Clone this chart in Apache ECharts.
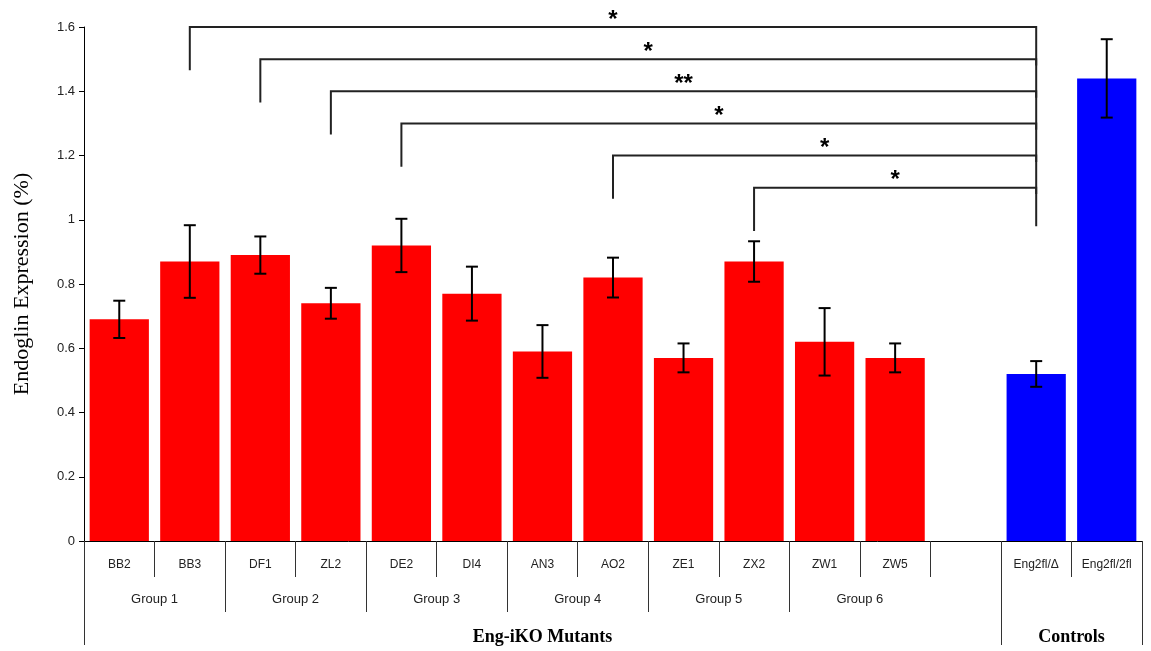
<!DOCTYPE html>
<html>
<head>
    <meta charset="UTF-8">
    <title>Endoglin Expression</title>
    <style>
        html, body { margin: 0; padding: 0; background: #fff; }
        #main { width: 1151px; height: 651px; }
    </style>
    <script src="https://cdn.jsdelivr.net/npm/echarts@6/dist/echarts.min.js"></script>
</head>
<body>
<div id="main"></div>
<script>
    // bar categories (one empty slot between mutants and controls)
    var categories = ['BB2', 'BB3', 'DF1', 'ZL2', 'DE2', 'DI4', 'AN3', 'AO2', 'ZE1', 'ZX2', 'ZW1', 'ZW5', '', 'Eng2fl/Δ', 'Eng2fl/2fl'];
    var means = [0.69, 0.87, 0.89, 0.74, 0.92, 0.77, 0.59, 0.82, 0.57, 0.87, 0.62, 0.57, null, 0.52, 1.44];
    var errors = [0.058, 0.113, 0.058, 0.048, 0.083, 0.084, 0.082, 0.062, 0.045, 0.063, 0.105, 0.045, null, 0.04, 0.122];
    var isControl = [false, false, false, false, false, false, false, false, false, false, false, false, false, true, true];

    // second label row
    var groupLabels = ['Group 1', 'Group 2', 'Group 3', 'Group 4', 'Group 5', 'Group 6'];
    var groupCentres = [0.5, 2.5, 4.5, 6.5, 8.5, 10.5];
    var groupEdges = [-0.5, 1.5, 3.5, 5.5, 7.5, 9.5, 12.5, 14.5];

    // third label row
    var sectionLabels = ['Eng-iKO Mutants', 'Controls'];
    var sectionCentres = [6, 13.5];
    var sectionEdges = [-0.5, 12.5, 14.5];

    // significance brackets, all against Eng2fl/Δ
    var bracketFrom = [1, 2, 3, 4, 7, 9];
    var bracketTo = 13;
    var bracketLevel = [1.6, 1.5, 1.4, 1.3, 1.2, 1.1];
    var bracketMarks = ['*', '*', '**', '*', '*', '*'];
    var bracketDrop = 0.135;

    var chart = echarts.init(document.getElementById('main'));

    var lineColor = '#222';
    var sans = 'Liberation Sans';

    var barData = means.map(function (m, i) {
        return { value: m, itemStyle: { color: isControl[i] ? '#0000ff' : '#ff0000' } };
    });

    var errData = [];
    means.forEach(function (m, i) {
        if (m != null) errData.push([i, m, errors[i]]);
    });

    var bracketData = bracketFrom.map(function (f, i) {
        return [f, bracketLevel[i], i];
    });

    var option = {
        animation: false,
        backgroundColor: '#fff',
        grid: { left: 84, right: 9, top: 27, bottom: 110 },
        xAxis: [
            {
                type: 'category',
                data: categories,
                position: 'bottom',
                axisLine: { lineStyle: { color: '#000', width: 1 } },
                axisTick: { show: true, interval: 0, length: 36, lineStyle: { color: '#333' } },
                axisLabel: { interval: 0, margin: 18, fontSize: 12, color: '#222', fontFamily: sans }
            },
            {
                type: 'value',
                min: -0.5,
                max: 14.5,
                position: 'bottom',
                splitLine: { show: false },
                axisLine: { show: false },
                axisTick: { show: true, customValues: groupEdges, length: 71, lineStyle: { color: '#333' } },
                axisLabel: {
                    customValues: groupCentres,
                    margin: 52,
                    fontSize: 13,
                    color: '#222',
                    fontFamily: sans,
                    formatter: function (v) { return groupLabels[groupCentres.indexOf(v)]; }
                }
            },
            {
                type: 'value',
                min: -0.5,
                max: 14.5,
                position: 'bottom',
                splitLine: { show: false },
                axisLine: { show: false },
                axisTick: { show: true, customValues: sectionEdges, length: 104, lineStyle: { color: '#333' } },
                axisLabel: {
                    customValues: sectionCentres,
                    margin: 87,
                    fontSize: 18,
                    fontWeight: 'bold',
                    color: '#000',
                    fontFamily: 'Liberation Serif',
                    formatter: function (v) { return sectionLabels[sectionCentres.indexOf(v)]; }
                }
            }
        ],
        yAxis: {
            type: 'value',
            min: 0,
            max: 1.6,
            interval: 0.2,
            name: 'Endoglin Expression (%)',
            nameLocation: 'middle',
            nameGap: 51,
            nameTextStyle: { fontFamily: 'Liberation Serif', fontSize: 22, color: '#000' },
            splitLine: { show: false },
            axisLine: { show: true, onZero: false, lineStyle: { color: '#000' } },
            axisTick: { show: true, length: 5, lineStyle: { color: '#000' } },
            axisLabel: { fontSize: 13, color: '#222', fontFamily: sans, margin: 9 }
        },
        series: [
            {
                type: 'bar',
                xAxisIndex: 0,
                data: barData,
                barCategoryGap: '16%',
                z: 2
            },
            {
                type: 'custom',
                xAxisIndex: 1,
                clip: false,
                z: 5,
                data: errData,
                encode: { x: 0, y: 1 },
                renderItem: function (params, api) {
                    var x = api.value(0), m = api.value(1), e = api.value(2);
                    var hi = api.coord([x, m + e]);
                    var lo = api.coord([x, m - e]);
                    var cap = 6;
                    var st = { stroke: '#000', lineWidth: 2 };
                    return {
                        type: 'group',
                        children: [
                            { type: 'line', shape: { x1: hi[0], y1: hi[1], x2: lo[0], y2: lo[1] }, style: st },
                            { type: 'line', shape: { x1: hi[0] - cap, y1: hi[1], x2: hi[0] + cap, y2: hi[1] }, style: st },
                            { type: 'line', shape: { x1: lo[0] - cap, y1: lo[1], x2: lo[0] + cap, y2: lo[1] }, style: st }
                        ]
                    };
                }
            },
            {
                type: 'custom',
                xAxisIndex: 1,
                clip: false,
                z: 5,
                data: bracketData,
                encode: { x: 0, y: 1 },
                renderItem: function (params, api) {
                    var f = api.value(0), lvl = api.value(1), k = api.value(2);
                    var a = api.coord([f, lvl - bracketDrop]);
                    var b = api.coord([f, lvl]);
                    var c = api.coord([bracketTo, lvl]);
                    var d = api.coord([bracketTo, lvl - 0.12]);
                    var mid = api.coord([(f + bracketTo) / 2, lvl]);
                    return {
                        type: 'group',
                        children: [
                            {
                                type: 'polyline',
                                shape: { points: [a, b, c, d] },
                                style: { stroke: lineColor, lineWidth: 2, fill: null }
                            },
                            {
                                type: 'text',
                                style: {
                                    text: bracketMarks[k],
                                    x: mid[0],
                                    y: mid[1] - 7,
                                    align: 'center',
                                    verticalAlign: 'middle',
                                    font: 'bold 24px "Liberation Sans"',
                                    fill: '#000'
                                }
                            }
                        ]
                    };
                }
            }
        ]
    };
    chart.setOption(option);
</script>
</body>
</html>
